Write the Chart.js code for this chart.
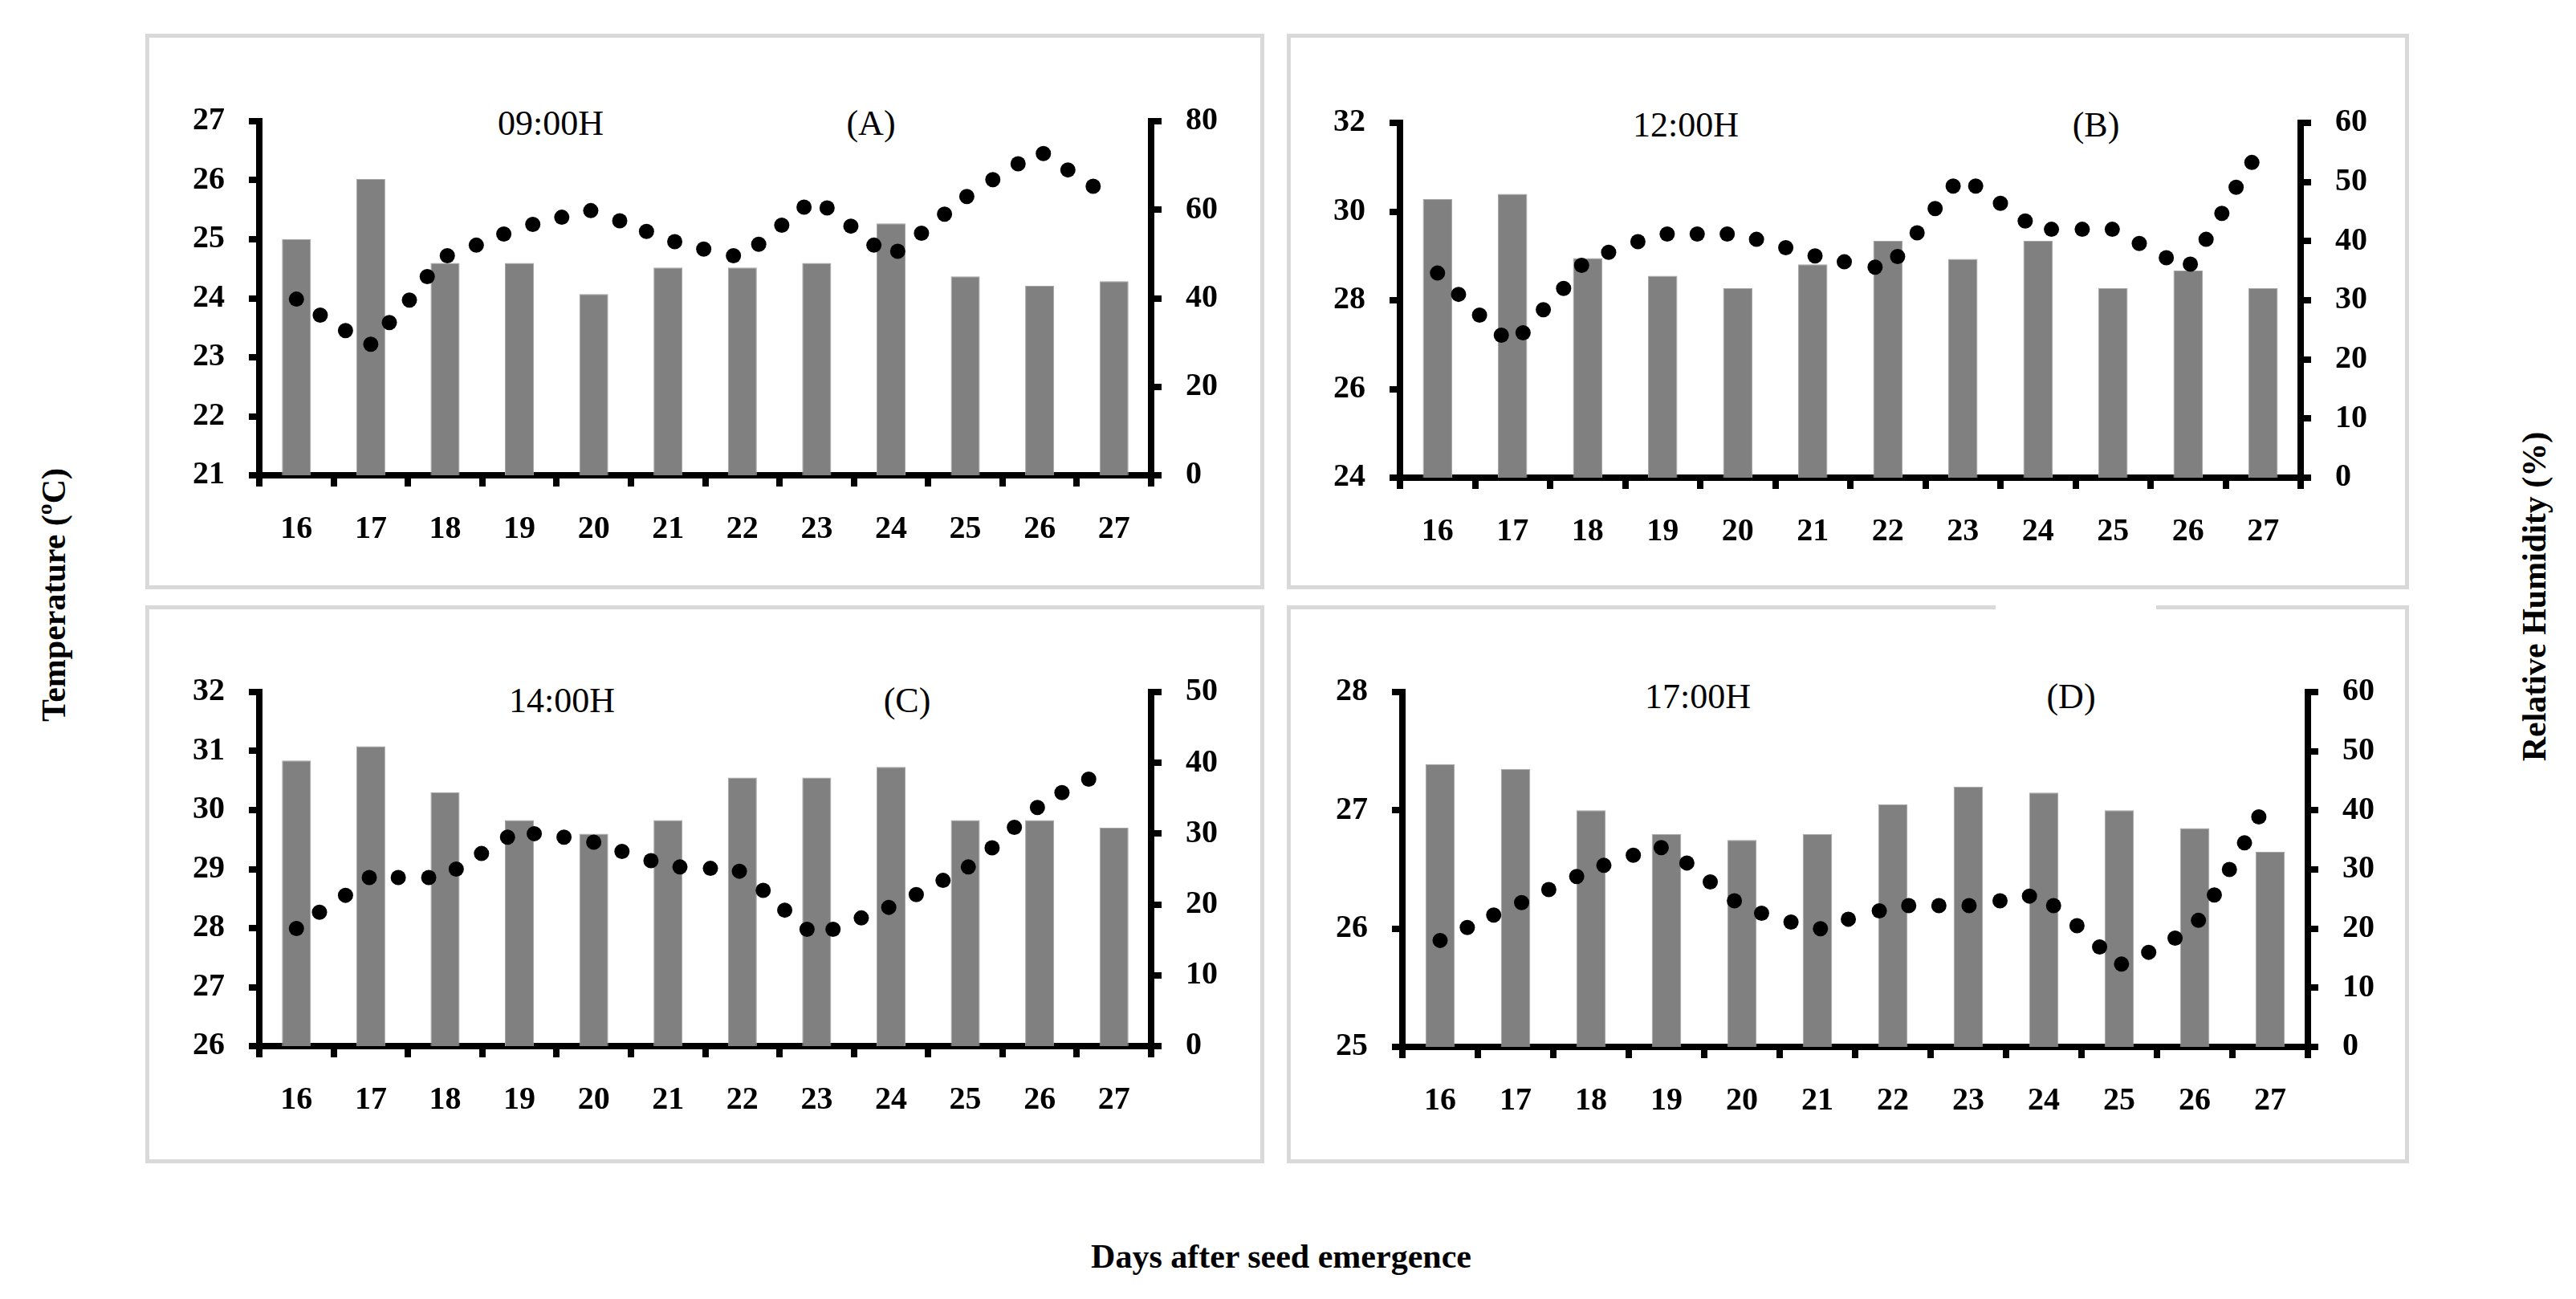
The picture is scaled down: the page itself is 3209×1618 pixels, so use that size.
<!DOCTYPE html>
<html>
<head>
<meta charset="utf-8">
<script src="https://cdn.jsdelivr.net/npm/chart.js@4.4.1/dist/chart.umd.min.js"></script>
<style>
body { margin: 0; background: #fff; width: 3209px; height: 1618px; position: relative; overflow: hidden; font-family: 'Liberation Serif', serif; }
.box { position: absolute; border: 5px solid #d9d9d9; box-sizing: border-box; }
canvas { position: absolute; }
.lbl { position: absolute; transform: translate(-50%, -50%); white-space: nowrap; line-height: 1; color: #000; }
.ttl { font-size: 44px; }
.axt { font-size: 42px; font-weight: bold; }
</style>
</head>
<body>
<div class="box" style="left:181px;top:42px;width:1394px;height:692px"></div>
<div class="box" style="left:1603px;top:42px;width:1398px;height:692px"></div>
<div class="box" style="left:181px;top:754px;width:1394px;height:695px"></div>
<div class="box" style="left:1603px;top:754px;width:1398px;height:695px"></div>
<!-- gap in the top border of panel D, as in the original -->
<div style="position:absolute;left:2486px;top:752px;width:200px;height:9px;background:#fff"></div>

<div class="lbl ttl" style="left:686px;top:154px">09:00H</div>
<div class="lbl ttl" style="left:1085px;top:154px">(A)</div>
<div class="lbl ttl" style="left:2100px;top:156px">12:00H</div>
<div class="lbl ttl" style="left:2611px;top:156px">(B)</div>
<div class="lbl ttl" style="left:700px;top:873px">14:00H</div>
<div class="lbl ttl" style="left:1130px;top:873px">(C)</div>
<div class="lbl ttl" style="left:2115px;top:868px">17:00H</div>
<div class="lbl ttl" style="left:2580px;top:868px">(D)</div>

<div class="lbl axt" style="left:67px;top:741px;transform:translate(-50%,-50%) rotate(-90deg)">Temperature (ºC)</div>
<div class="lbl axt" style="left:3157px;top:743px;transform:translate(-50%,-50%) rotate(-90deg)">Relative Humidity (%)</div>
<div class="lbl axt" style="left:1596px;top:1565px">Days after seed emergence</div>

<script>
const days = ['16', '17', '18', '19', '20', '21', '22', '23', '24', '25', '26', '27'];

// temperature (bars, left axis)
const tempA = [25.0, 26.02, 24.6, 24.6, 24.07, 24.52, 24.52, 24.6, 25.27, 24.37, 24.21, 24.29];
const tempB = [30.28, 30.4, 28.95, 28.55, 28.27, 28.81, 29.34, 28.93, 29.34, 28.27, 28.67, 28.27];
const tempC = [30.84, 31.08, 30.3, 29.83, 29.6, 29.83, 30.55, 30.55, 30.73, 29.83, 29.83, 29.7];
const tempD = [27.39, 27.35, 27.0, 26.8, 26.75, 26.8, 27.05, 27.2, 27.15, 27.0, 26.85, 26.65];

// relative humidity (dots, right axis): position along the day axis and value
const rhDayA = [16.0, 16.32, 16.66, 17.0, 17.25, 17.52, 17.76, 18.03, 18.42, 18.79, 19.18, 19.57, 19.96, 20.35, 20.71, 21.09, 21.48, 21.88, 22.22, 22.53, 22.83, 23.14, 23.46, 23.77, 24.09, 24.41, 24.72, 25.02, 25.37, 25.71, 26.05, 26.38, 26.72];
const rhA = [39.8, 36.2, 32.7, 29.6, 34.5, 39.6, 44.9, 49.6, 52.0, 54.5, 56.7, 58.3, 59.8, 57.5, 55.1, 52.8, 51.1, 49.6, 52.2, 56.5, 60.6, 60.4, 56.3, 52.0, 50.6, 54.7, 59.0, 63.0, 66.8, 70.4, 72.7, 69.0, 65.3];

const rhDayB = [16.0, 16.28, 16.56, 16.85, 17.14, 17.41, 17.68, 17.92, 18.28, 18.67, 19.06, 19.46, 19.86, 20.25, 20.64, 21.03, 21.42, 21.83, 22.13, 22.39, 22.63, 22.87, 23.17, 23.5, 23.83, 24.18, 24.59, 24.99, 25.35, 25.71, 26.03, 26.24, 26.45, 26.64, 26.85];
const rhB = [34.6, 31.0, 27.5, 24.1, 24.5, 28.4, 32.0, 35.9, 38.1, 39.9, 41.2, 41.2, 41.2, 40.3, 38.9, 37.5, 36.5, 35.6, 37.4, 41.4, 45.5, 49.3, 49.3, 46.4, 43.4, 42.0, 42.0, 42.0, 39.6, 37.2, 36.1, 40.3, 44.7, 49.1, 53.3];

const rhDayC = [16.0, 16.31, 16.66, 16.98, 17.37, 17.78, 18.15, 18.49, 18.84, 19.2, 19.6, 20.0, 20.38, 20.77, 21.16, 21.57, 21.96, 22.28, 22.57, 22.87, 23.22, 23.6, 23.97, 24.34, 24.7, 25.04, 25.36, 25.66, 25.97, 26.3, 26.66];
const rhC = [16.6, 18.9, 21.3, 23.8, 23.8, 23.8, 25.0, 27.2, 29.5, 30.0, 29.5, 28.8, 27.5, 26.2, 25.3, 25.1, 24.7, 22.0, 19.2, 16.5, 16.5, 18.1, 19.6, 21.4, 23.4, 25.3, 28.0, 30.9, 33.7, 35.8, 37.7];

const rhDayD = [16.0, 16.36, 16.71, 17.08, 17.44, 17.81, 18.17, 18.56, 18.93, 19.27, 19.58, 19.9, 20.26, 20.65, 21.04, 21.41, 21.82, 22.21, 22.61, 23.01, 23.42, 23.81, 24.13, 24.44, 24.74, 25.03, 25.39, 25.74, 26.05, 26.26, 26.46, 26.66, 26.85];
const rhD = [18.0, 20.2, 22.3, 24.4, 26.6, 28.8, 30.7, 32.4, 33.7, 31.1, 27.9, 24.7, 22.6, 21.1, 20.0, 21.6, 23.0, 23.9, 23.9, 23.9, 24.7, 25.5, 23.9, 20.5, 16.9, 14.0, 16.0, 18.4, 21.4, 25.7, 30.0, 34.5, 38.9];

Chart.defaults.font.family = "'Liberation Serif', serif";
Chart.defaults.color = '#000';

const SIDE = 200, TOP = 40, BOTTOM = 120;
const tickFont = { size: 40, weight: 'bold' };

function axisStyle(tickLen) {
    return {
        grid: { drawOnChartArea: false, drawTicks: true, tickLength: tickLen, lineWidth: 8, color: '#000' },
        border: { display: true, width: 8, color: '#000' }
    };
}

function criarPainel(area, temp, tMin, tMax, tStep, rhDay, rh, rhMax, rhStep) {
    const canvas = document.createElement('canvas');
    const w = area.r - area.l + 2 * SIDE;
    const h = area.b - area.t + TOP + BOTTOM;
    canvas.width = w;
    canvas.height = h;
    canvas.style.left = (area.l - SIDE) + 'px';
    canvas.style.top = (area.t - TOP) + 'px';
    canvas.style.width = w + 'px';
    canvas.style.height = h + 'px';
    document.body.appendChild(canvas);

    const pontos = rhDay.map((d, i) => ({ x: d, y: rh[i] }));

    new Chart(canvas.getContext('2d'), {
        data: {
            labels: days,
            datasets: [{
                type: 'scatter',
                data: pontos,
                xAxisID: 'x2',
                yAxisID: 'yR',
                pointRadius: 9.5,
                pointBackgroundColor: '#000',
                pointBorderWidth: 0,
                showLine: false
            }, {
                type: 'bar',
                data: temp,
                xAxisID: 'x',
                yAxisID: 'yL',
                grouped: false,
                backgroundColor: '#808080',
                borderColor: '#a6a6a6',
                borderWidth: 1,
                barPercentage: 0.39,
                categoryPercentage: 1.0
            }]
        },
        options: {
            responsive: false,
            animation: false,
            devicePixelRatio: 1,
            layout: { padding: { top: TOP, left: 0, right: 0, bottom: 0 } },
            plugins: { legend: { display: false }, tooltip: { enabled: false } },
            scales: {
                x: {
                    type: 'category',
                    position: 'bottom',
                    offset: true,
                    border: { display: true, width: 8, color: '#000' },
                    grid: { offset: true, drawOnChartArea: false, drawTicks: true, tickLength: 14, lineWidth: 8, color: '#000' },
                    ticks: { font: tickFont, padding: 30, autoSkip: false, maxRotation: 0 },
                    afterFit: s => { s.height = BOTTOM; }
                },
                x2: { type: 'linear', display: false, min: 15.5, max: 27.5 },
                yL: {
                    type: 'linear',
                    position: 'left',
                    min: tMin, max: tMax,
                    ...axisStyle(13),
                    ticks: { font: tickFont, stepSize: tStep, padding: 30 },
                    afterFit: s => { s.width = SIDE; }
                },
                yR: {
                    type: 'linear',
                    position: 'right',
                    min: 0, max: rhMax,
                    ...axisStyle(13),
                    ticks: { font: tickFont, stepSize: rhStep, padding: 30 },
                    afterFit: s => { s.width = SIDE; }
                }
            }
        }
    });
}

criarPainel({ l: 323, r: 1434, t: 137, b: 592 }, tempA, 21, 27, 1, rhDayA, rhA, 80, 20);
criarPainel({ l: 1744, r: 2866, t: 139, b: 595 }, tempB, 24, 32, 2, rhDayB, rhB, 60, 10);
criarPainel({ l: 323, r: 1434, t: 848, b: 1303 }, tempC, 26, 32, 1, rhDayC, rhC, 50, 10);
criarPainel({ l: 1747, r: 2875, t: 848, b: 1304 }, tempD, 25, 28, 1, rhDayD, rhD, 60, 10);
</script>
</body>
</html>
